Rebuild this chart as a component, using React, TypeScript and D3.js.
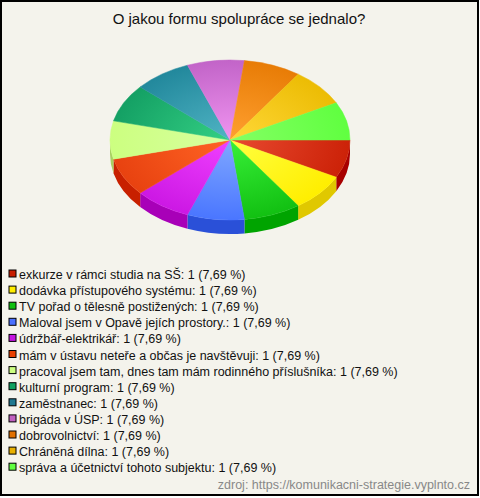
import React from "react";
import * as d3 from "d3";

const categories = [
  "exkurze v rámci studia na SŠ",
  "dodávka přístupového systému",
  "TV pořad o tělesně postižených",
  "Maloval jsem v Opavě jejích prostory.",
  "údržbář-elektrikář",
  "mám v ústavu neteře a občas je navštěvuji",
  "pracoval jsem tam, dnes tam mám rodinného příslušníka",
  "kulturní program",
  "zaměstnanec",
  "brigáda v ÚSP",
  "dobrovolnictví",
  "Chráněná dílna",
  "správa a účetnictví tohoto subjektu",
];
const values = [1, 1, 1, 1, 1, 1, 1, 1, 1, 1, 1, 1, 1];
const percentLabels = ["7,69", "7,69", "7,69", "7,69", "7,69", "7,69", "7,69", "7,69", "7,69", "7,69", "7,69", "7,69", "7,69"];

const baseColors = ["#cc2208", "#ffee00", "#12c012", "#4a76ff", "#cc18e4", "#e84210", "#ccff80", "#14a064", "#22889c", "#c264c8", "#e87c06", "#ecbc04", "#60ff40"];
const lightColors = ["#e84a30", "#ffff40", "#38f038", "#80a8ff", "#f040ff", "#ff6424", "#d8ffa0", "#34d084", "#50b4c4", "#f094f0", "#ffa030", "#ffd838", "#84ff64"];
const sideColors = ["#a80000", "#e0c800", "#00a400", "#2a50d8", "#a800b8", "#c82000", "#a8d060", "#008040", "#106878", "#9840a0", "#c05800", "#c09800", "#40d020"];
const legendColors = ["#c81e00", "#ffee00", "#10c010", "#4a70ff", "#c414e0", "#e84000", "#ccff80", "#10a060", "#207890", "#c060c0", "#e07000", "#e8b000", "#60ff40"];

const title = "O jakou formu spolupráce se jednalo?";
const source = "zdroj: https://komunikacni-strategie.vyplnto.cz";

export default function App() {
  const W = 480, H = 498;
  const cx = 230, cy = 140, rx = 120, ry = 80, depth = 14;
  const pie = d3.pie<number>().sort(null).startAngle(Math.PI / 2).endAngle(Math.PI / 2 + 2 * Math.PI);
  const arcs = pie(values);
  const th = (a: number) => a - Math.PI / 2; // screen angle from east, clockwise
  const pt = (t: number, dy = 0) => [cx + rx * Math.cos(t), cy + ry * Math.sin(t) + dy];

  const sides: { d: string; c: string }[] = [];
  arcs.forEach((a, i) => {
    let s = th(a.startAngle), e = th(a.endAngle);
    for (const off of [0, 2 * Math.PI]) {
      const s2 = Math.max(s, 0 + off), e2 = Math.min(e, Math.PI + off);
      if (e2 > s2) {
        const [x1, y1] = pt(s2), [x2, y2] = pt(e2);
        const d = `M${x1},${y1} A${rx},${ry} 0 0 1 ${x2},${y2} L${x2},${y2 + depth} A${rx},${ry} 0 0 0 ${x1},${y1 + depth} Z`;
        sides.push({ d, c: sideColors[i] });
      }
    }
  });

  const tops = arcs.map((a, i) => {
    const s = th(a.startAngle), e = th(a.endAngle);
    const [x1, y1] = pt(s), [x2, y2] = pt(e);
    const large = e - s > Math.PI ? 1 : 0;
    return { d: `M${cx},${cy} L${x1},${y1} A${rx},${ry} 0 ${large} 1 ${x2},${y2} Z`, i };
  });

  const legendY0 = 274, legendStep = 16.1;
  const legendY = d3.scalePoint<number>().domain(d3.range(categories.length)).range([legendY0, legendY0 + legendStep * (categories.length - 1)]);

  return (
    <div style={{ position: "fixed", left: 0, top: 0 }}>
      <svg width={W} height={H} style={{ display: "block" }} fontFamily="'Liberation Sans', Arial, sans-serif">
        <defs>
          {baseColors.map((c, i) => (
            <radialGradient key={i} id={`g${i}`} gradientUnits="userSpaceOnUse" cx={cx} cy={cy} r={rx}
              gradientTransform={`translate(${cx},${cy}) scale(1,${ry / rx}) translate(${-cx},${-cy})`}>
              <stop offset="0" stopColor={lightColors[i]} />
              <stop offset="1" stopColor={c} />
            </radialGradient>
          ))}
        </defs>
        <rect x={1} y={1} width={477} height={494} fill="#f4f3ec" stroke="#000" strokeWidth={2} />
        <text x={239} y={24} textAnchor="middle" fontSize={15} fill="#111">{title}</text>
        {sides.map((s, k) => <path key={k} d={s.d} fill={s.c} />)}
        {tops.map(t => <path key={t.i} d={t.d} fill={`url(#g${t.i})`} stroke={`url(#g${t.i})`} strokeWidth={0.5} />)}
        {categories.map((c, i) => (
          <g key={i} transform={`translate(0,${legendY(i)})`}>
            <rect x={9} y={-4} width={7} height={7} fill={legendColors[i]} stroke="#000" strokeWidth={1} />
            <text x={19} y={5} fontSize={12.5} fill="#111">{`${c}: ${values[i]} (${percentLabels[i]} %)`}</text>
          </g>
        ))}
        <text x={470} y={489} textAnchor="end" fontSize={12.5} fill="#888">{source}</text>
      </svg>
    </div>
  );
}
